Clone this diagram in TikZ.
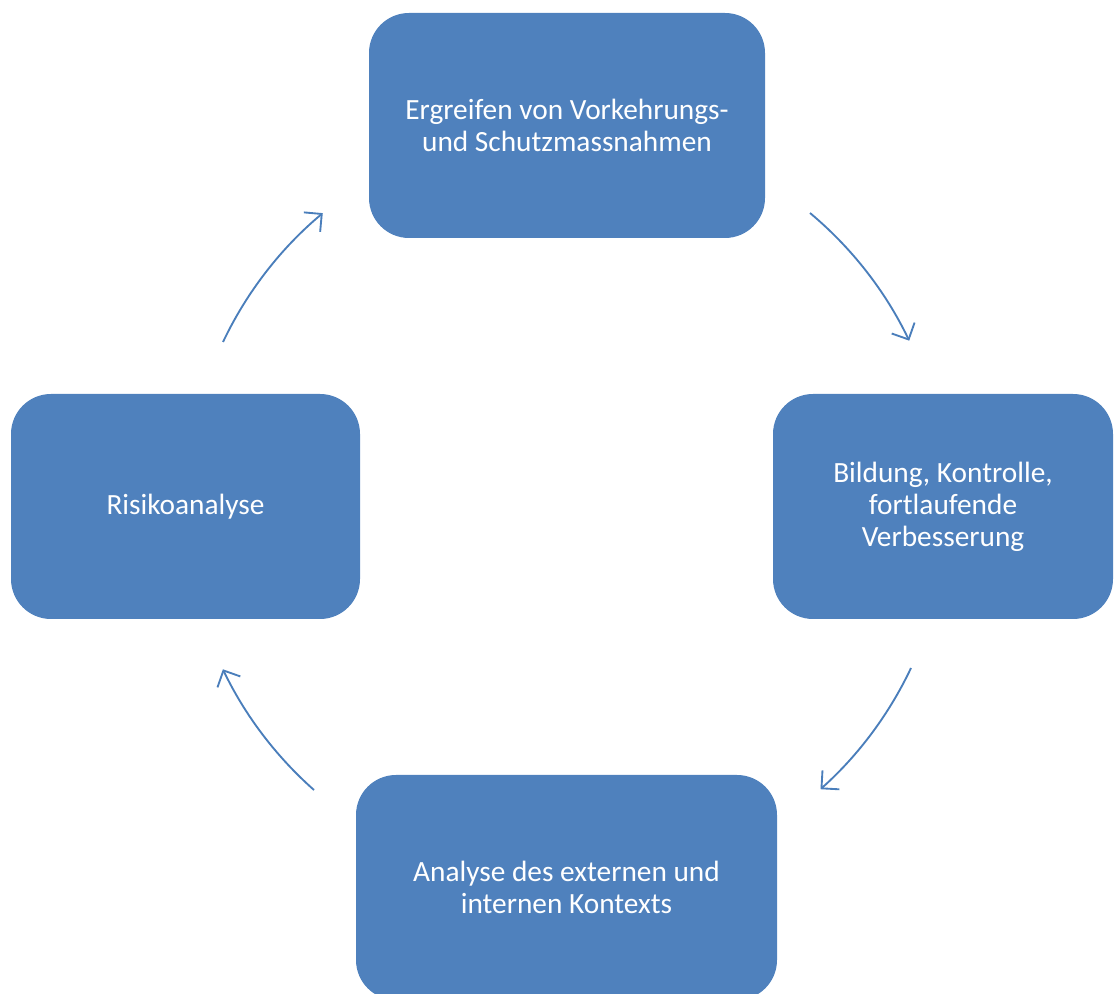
\documentclass[tikz,border=0pt]{standalone}
\usepackage{fontspec}
\setmainfont{Carlito}
\usetikzlibrary{arrows.meta}
\definecolor{boxblue}{HTML}{4F81BD}
\definecolor{arrblue}{HTML}{4A7EBB}
\begin{document}
\begin{tikzpicture}[x=0.75pt,y=-0.75pt,
  box/.style={draw=none,fill=boxblue,rounded corners=30pt,text=white,align=center,
    font=\fontsize{22pt}{24pt}\selectfont,inner sep=0pt},
  cyc/.style={draw=arrblue,line width=1.4pt,-{Straight Barb[length=9.5pt,width=19pt,line width=1.4pt]}}]
\useasboundingbox (0,0) rectangle (1115,994);
\node[box,minimum width=396*0.75pt,minimum height=225*0.75pt] (top) at (567,125.5)
  {Ergreifen von Vorkehrungs-\\und Schutzmassnahmen};
\node[box,minimum width=340*0.75pt,minimum height=225*0.75pt] (right) at (943,506.5)
  {Bildung, Kontrolle,\\fortlaufende\\Verbesserung};
\node[box,minimum width=349*0.75pt,minimum height=225*0.75pt] (left) at (185.5,506.5)
  {Risikoanalyse};
\node[box,minimum width=421*0.75pt,minimum height=225*0.75pt] (bottom) at (566.5,887.5)
  {Analyse des externen und\\internen Kontexts};
\coordinate (a1) at (810,213);
\coordinate (a2) at (911,668);
\coordinate (a3) at (314,790);
\coordinate (a4) at (223,342);
\draw[cyc] (a1) arc[start angle=50.1,end angle=25.6,radius=285.75pt];
\draw[cyc] (a2) arc[start angle=-25.3,end angle=-48.2,radius=285.75pt];
\draw[cyc] (a3) arc[start angle=-131.5,end angle=-154.4,radius=285.75pt];
\draw[cyc] (a4) arc[start angle=154.6,end angle=129.9,radius=285.75pt];
\end{tikzpicture}
\end{document}
